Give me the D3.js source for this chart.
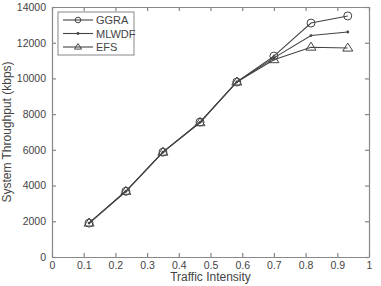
<!DOCTYPE html>
<html>
<head>
<meta charset="utf-8">
<script src="https://cdn.jsdelivr.net/npm/d3@7"></script>
<style>
  body { margin: 0; background: #fff; }
  text { font-family: "Liberation Sans", Arial, sans-serif; fill: #444; }
</style>
</head>
<body>
<svg id="chart" width="381" height="286"></svg>
<script>
const intensity = [0.117, 0.233, 0.35, 0.467, 0.583, 0.70, 0.817, 0.933]
const ggra  = [1900, 3680, 5870, 7560, 9800, 11250, 13100, 13500]
const mlwdf = [1900, 3680, 5870, 7540, 9800, 11150, 12400, 12600]
const efs   = [1900, 3680, 5870, 7520, 9800, 11050, 11750, 11700]
const seriesNames = ['GGRA', 'MLWDF', 'EFS']
const xTicks = [0, 0.1, 0.2, 0.3, 0.4, 0.5, 0.6, 0.7, 0.8, 0.9, 1]
const yTicks = [0, 2000, 4000, 6000, 8000, 10000, 12000, 14000]

const series = [
  {name: seriesNames[0], values: ggra, marker: 'circle'},
  {name: seriesNames[1], values: mlwdf, marker: 'dot'},
  {name: seriesNames[2], values: efs, marker: 'triangle'},
]

const m = {left: 52, right: 12, top: 7, bottom: 29}
const W = 381, H = 286
const svg = d3.select('#chart')
const x = d3.scaleLinear().domain([0, 1]).range([m.left, W - m.right])
const y = d3.scaleLinear().domain([0, 14000]).range([H - m.bottom, m.top])
const axisCol = '#888'
const lineCol = '#444'

// axes box
const g = svg.append('g')
g.append('g').attr('transform', `translate(0,${y(0)})`)
  .call(d3.axisBottom(x).tickValues(xTicks).tickSizeInner(-4).tickSizeOuter(0).tickPadding(5)
    .tickFormat(d => d === 0 || d === 1 ? d3.format('d')(d) : d3.format('.1f')(d)))
g.append('g').attr('transform', `translate(0,${y(14000)})`)
  .call(d3.axisTop(x).tickValues(xTicks).tickSizeInner(-4).tickSizeOuter(0).tickFormat(''))
g.append('g').attr('transform', `translate(${x(0)},0)`)
  .call(d3.axisLeft(y).tickValues(yTicks).tickSizeInner(-4).tickSizeOuter(0).tickPadding(6).tickFormat(d3.format('d')))
g.append('g').attr('transform', `translate(${x(1)},0)`)
  .call(d3.axisRight(y).tickValues(yTicks).tickSizeInner(-4).tickSizeOuter(0).tickFormat(''))
g.selectAll('.domain, .tick line').attr('stroke', axisCol).attr('stroke-width', 1.2)
g.selectAll('.tick text').style('font-size', '10.5px').attr('fill', '#555')

// lines
const line = d3.line().x((d, i) => x(intensity[i])).y(d => y(d))

function drawMarker(sel, type, cx, cy, k = 1) {
  if (type === 'circle') {
    sel.append('circle').attr('cx', cx).attr('cy', cy).attr('r', 4 * k)
      .attr('fill', 'none').attr('stroke', lineCol).attr('stroke-width', 1)
  } else if (type === 'dot') {
    sel.append('circle').attr('cx', cx).attr('cy', cy).attr('r', 1.4).attr('fill', lineCol)
  } else {
    const s = 5 * k
    sel.append('path').attr('d', `M${cx},${cy - s}L${cx + s},${cy + s * 0.6}L${cx - s},${cy + s * 0.6}Z`)
      .attr('fill', 'none').attr('stroke', lineCol).attr('stroke-width', 1)
  }
}

series.forEach(s => {
  svg.append('path').datum(s.values).attr('d', line)
    .attr('fill', 'none').attr('stroke', lineCol).attr('stroke-width', 1.1)
  const mg = svg.append('g')
  s.values.forEach((v, i) => drawMarker(mg, s.marker, x(intensity[i]), y(v)))
})

// legend
const lg = svg.append('g')
lg.append('rect').attr('x', 58).attr('y', 12).attr('width', 76).attr('height', 43)
  .attr('fill', '#fff').attr('stroke', axisCol).attr('stroke-width', 1)
series.forEach((s, i) => {
  const ly = 20 + i * 13.5
  lg.append('line').attr('x1', 63).attr('x2', 93).attr('y1', ly).attr('y2', ly)
    .attr('stroke', lineCol).attr('stroke-width', 1.1)
  drawMarker(lg, s.marker, 78, ly, 0.7)
  lg.append('text').attr('x', 96).attr('y', ly + 4).style('font-size', '11px').text(s.name)
})

// axis labels
svg.append('text').attr('x', x(0.5)).attr('y', 281).attr('text-anchor', 'middle')
  .style('font-size', '12px').text('Traffic Intensity')
svg.append('text').attr('transform', `translate(11,${(y(0) + y(14000)) / 2}) rotate(-90)`)
  .attr('text-anchor', 'middle').style('font-size', '12px').text('System Throughput (kbps)')
</script>
</body>
</html>
